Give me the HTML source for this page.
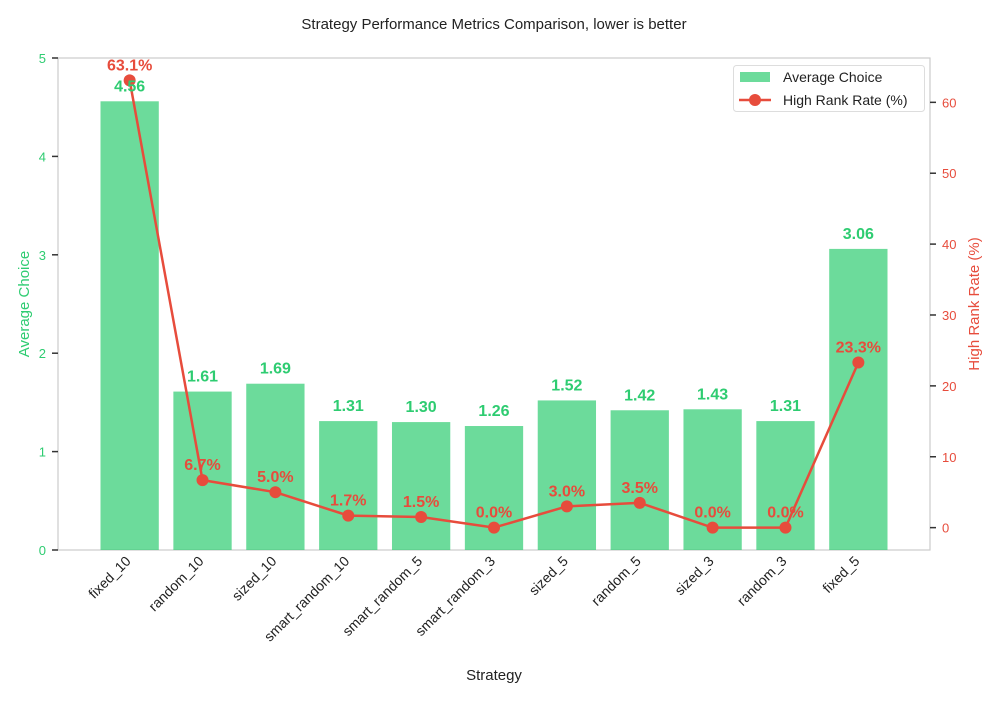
<!DOCTYPE html>
<html><head><meta charset="utf-8"><style>
body{margin:0;background:#fff;font-family:"Liberation Sans",Arial,sans-serif}
svg text{font-family:"Liberation Sans",Arial,sans-serif}
.b{font-weight:700}
</style></head><body>
<svg id="chart" width="1000" height="700" xmlns="http://www.w3.org/2000/svg">
<text x="494" y="29" text-anchor="middle" font-size="15" fill="#222">Strategy Performance Metrics Comparison, lower is  better</text>
<rect x="58" y="58" width="872" height="492" fill="none" stroke="#ccc" stroke-width="1.2"/>
<g id="bars"></g><g id="line"></g><g id="labels"></g><g id="axes"></g>
<text x="494" y="680" text-anchor="middle" font-size="15" fill="#222">Strategy</text>
<text transform="translate(29,304) rotate(-90)" text-anchor="middle" font-size="15" fill="#2ecc71">Average Choice</text>
<text transform="translate(979,304) rotate(-90)" text-anchor="middle" font-size="15" fill="#e74c3c">High Rank Rate (%)</text>
<g>
<rect x="733.5" y="65.5" width="191" height="46" rx="3" fill="#fff" stroke="#ddd"/>
<rect x="740" y="72" width="30" height="10" fill="#2ecc71" fill-opacity="0.7"/>
<text x="783" y="82" font-size="14" fill="#222">Average Choice</text>
<line x1="739" y1="100" x2="771" y2="100" stroke="#e74c3c" stroke-width="2.5"/>
<circle cx="755" cy="100" r="6" fill="#e74c3c"/>
<text x="783" y="105" font-size="14" fill="#222">High Rank Rate (%)</text>
</g>
</svg>
<script>
const categories=["fixed_10","random_10","sized_10","smart_random_10","smart_random_5","smart_random_3","sized_5","random_5","sized_3","random_3","fixed_5"];
const avgChoice=[4.56,1.61,1.69,1.31,1.30,1.26,1.52,1.42,1.43,1.31,3.06];
const highRank=[63.1,6.7,5.0,1.7,1.5,0.0,3.0,3.5,0.0,0.0,23.3];
const leftTicks=[0,1,2,3,4,5];
const rightTicks=[0,10,20,30,40,50,60];
const NS="http://www.w3.org/2000/svg";
const L=58,R=930,T=58,B=550;
const n=categories.length;
const xmin=-0.4-0.054*(n-0.2),xmax=n-1+0.4+0.054*(n-0.2);
const x=i=>L+(i-xmin)/(xmax-xmin)*(R-L);
const yL=v=>B-v/5*(B-T);
const hmax=Math.max(...highRank),hmin=Math.min(0,...highRank),pad=(hmax-hmin)*0.05;
const rlo=hmin-pad,rhi=hmax+pad;
const yR=v=>B-(v-rlo)/(rhi-rlo)*(B-T);
function mk(tag,attrs,parent,text){const e=document.createElementNS(NS,tag);for(const k in attrs)e.setAttribute(k,attrs[k]);if(text!==undefined)e.textContent=text;document.getElementById(parent).appendChild(e);return e;}
const bw=(x(1)-x(0))*0.8;
categories.forEach((c,i)=>{
 const r=mk('rect',{x:x(i)-bw/2,y:yL(avgChoice[i]),width:bw,height:B-yL(avgChoice[i]),fill:'#2ecc71','fill-opacity':0.7},'bars');
 
 
 const t=mk('text',{x:x(i),y:yL(avgChoice[i])-10,'text-anchor':'middle','font-size':16,'class':'b',fill:'#2ecc71'},'labels',avgChoice[i].toFixed(2));
 
 
 const xl=mk('text',{transform:`translate(${x(i)+2},${B+12}) rotate(-45)`,'text-anchor':'end','font-size':14,fill:'#222'},'axes',c);
 
 
});
const pts=highRank.map((v,i)=>x(i)+','+yR(v)).join(' ');
const pl=mk('polyline',{points:pts,fill:'none',stroke:'#e74c3c','stroke-width':2.5},'line');


highRank.forEach((v,i)=>{
 const c=mk('circle',{cx:x(i),cy:yR(v),r:6,fill:'#e74c3c'},'line');
 
 
 const t=mk('text',{x:x(i),y:yR(v)-10,'text-anchor':'middle','font-size':16,'class':'b',fill:'#e74c3c'},'labels',v.toFixed(1)+'%');
 
 
});
leftTicks.forEach(v=>{
 mk('line',{x1:L-6,x2:L,y1:yL(v),y2:yL(v),stroke:'#333','stroke-width':1.5},'axes');
 const t=mk('text',{x:L-12,y:yL(v)+5,'text-anchor':'end','font-size':13,fill:'#2ecc71'},'axes',v);
 
 
});
rightTicks.forEach(v=>{
 mk('line',{x1:R,x2:R+6,y1:yR(v),y2:yR(v),stroke:'#333','stroke-width':1.5},'axes');
 const t=mk('text',{x:R+12,y:yR(v)+5,'text-anchor':'start','font-size':13,fill:'#e74c3c'},'axes',v);
 
 
});
</script>
</body></html>
